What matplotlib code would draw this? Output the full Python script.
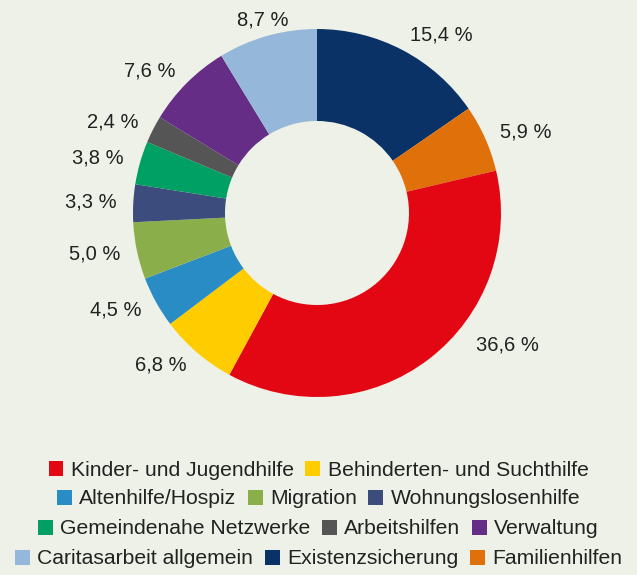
import matplotlib.pyplot as plt
from matplotlib.patches import Patch
import numpy as np

# Anteile (%) in Legendenreihenfolge
categories = ["Kinder- und Jugendhilfe", "Behinderten- und Suchthilfe", "Altenhilfe/Hospiz",
              "Migration", "Wohnungslosenhilfe", "Gemeindenahe Netzwerke", "Arbeitshilfen",
              "Verwaltung", "Caritasarbeit allgemein", "Existenzsicherung", "Familienhilfen"]
values = [36.6, 6.8, 4.5, 5.0, 3.3, 3.8, 2.4, 7.6, 8.7, 15.4, 5.9]
colors = ["#e30613", "#ffcc00", "#2a8cc4", "#8aae4a", "#3c4c7c", "#00a064", "#555555",
          "#652d86", "#95b8da", "#0a3266", "#df700a"]
legend_rows = [[0, 1], [2, 3, 4], [5, 6, 7], [8, 9, 10]]

bg = "#eef1e7"
txt = "#222222"
plt.rcParams["font.family"] = ["Liberation Sans", "DejaVu Sans"]

W, H = 637, 575
fig = plt.figure(figsize=(W / 100, H / 100), dpi=100, facecolor=bg)

# donut: centre (317, 213) px, outer radius 184 px
cx, cy, R = 317, 213, 184
ax = fig.add_axes([(cx - R) / W, (H - cy - R) / H, 2 * R / W, 2 * R / H])
ax.set_facecolor(bg)

# pie starts at 12 o'clock with Existenzsicherung, running clockwise
order = np.roll(np.arange(len(values)), 2)
vals = [values[i] for i in order]
cols = [colors[i] for i in order]
labels = [f"{values[i]:.1f} %".replace(".", ",") for i in order]
ld = 1.09
wedges, texts = ax.pie(vals, colors=cols, labels=labels, startangle=90,
                       counterclock=False, radius=1, labeldistance=ld,
                       wedgeprops=dict(width=0.5, linewidth=0),
                       textprops=dict(fontsize=14.5, color=txt))
for w, t, i in zip(wedges, texts, order):
    x, y = t.get_position()
    if abs(x) < 0.3:
        t.set_ha("center")
    if i == 0:
        # big wedge: label sits higher up, nearer the right side
        a = np.radians((w.theta1 + w.theta2) / 2 + 13)
        t.set_position((ld * 1.03 * np.cos(a), ld * 1.03 * np.sin(a)))
ax.set_xlim(-1, 1)
ax.set_ylim(-1, 1)
ax.set_aspect("equal")
ax.axis("off")

# legend rows, each centred
row_y = [470, 499, 529, 559]
for row, y in zip(legend_rows, row_y):
    handles = [Patch(facecolor=colors[i], edgecolor="none") for i in row]
    fig.legend(handles, [categories[i] for i in row], loc="center",
               bbox_to_anchor=(0.5, 1 - y / H), ncol=len(row), frameon=False,
               fontsize=15.2, handlelength=0.7, handleheight=0.7,
               handletextpad=0.35, columnspacing=0.55, borderpad=0,
               labelcolor=txt)

fig.savefig("out.png", dpi=100, facecolor=bg)
